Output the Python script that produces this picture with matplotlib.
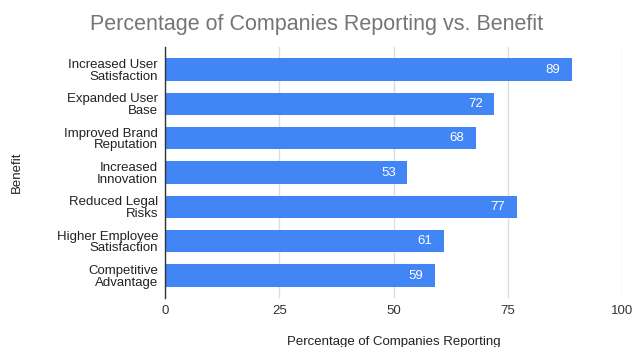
import matplotlib
matplotlib.use("Agg")
import matplotlib.pyplot as plt

categories = ["Increased User\nSatisfaction", "Expanded User\nBase", "Improved Brand\nReputation",
              "Increased\nInnovation", "Reduced Legal\nRisks", "Higher Employee\nSatisfaction",
              "Competitive\nAdvantage"]
values = [89, 72, 68, 53, 77, 61, 59]
xticks = [0, 25, 50, 75, 100]

plt.rcParams['font.family'] = ['Liberation Sans', 'DejaVu Sans']

fig = plt.figure(figsize=(6.33, 3.47), dpi=100)
ax = fig.add_axes([0.2607, 0.1412, 0.7219, 0.7233])

ypos = list(range(len(categories)))
bars = ax.barh(ypos, values, height=0.65, color="#4285F4", zorder=3)
ax.set_ylim(len(categories) - 0.5 + 0.155, -0.5 - 0.155)
ax.set_xlim(0, 100)
ax.set_yticks(ypos)
ax.set_yticklabels(categories, fontsize=9.5, color="#222222", linespacing=0.95)
for lbl in ax.get_yticklabels():
    lbl.set_multialignment('right')
ax.set_xticks(xticks)
ax.set_xticklabels([str(t) for t in xticks], fontsize=9.5, color="#333333")
ax.tick_params(axis='y', length=0, pad=5)
ax.tick_params(axis='x', length=0, pad=5)
ax.grid(axis='x', color="#dddddd", linewidth=1, zorder=0)
for s in ["top", "right", "bottom"]:
    ax.spines[s].set_visible(False)
ax.spines["left"].set_color("#333333")
ax.spines["left"].set_linewidth(1)
ax.spines["left"].set_zorder(4)

for b, v in zip(bars, values):
    ax.text(v - 2.5, b.get_y() + b.get_height() / 2, str(v), ha='right', va='center',
            color="white", fontsize=9.5, zorder=5)

ax.set_xlabel("Percentage of Companies Reporting", fontsize=9.5, color="#222222")
ax.xaxis.set_label_coords(0.5, -0.151)
ax.set_ylabel("Benefit", fontsize=9.5, color="#222222")
ax.yaxis.set_label_coords(-0.311, 0.5)
fig.text(0.5, 0.928, "Percentage of Companies Reporting vs. Benefit", ha='center', va='center',
         fontsize=15.5, color="#757575")

fig.savefig("out.png", dpi=100, facecolor="white")
